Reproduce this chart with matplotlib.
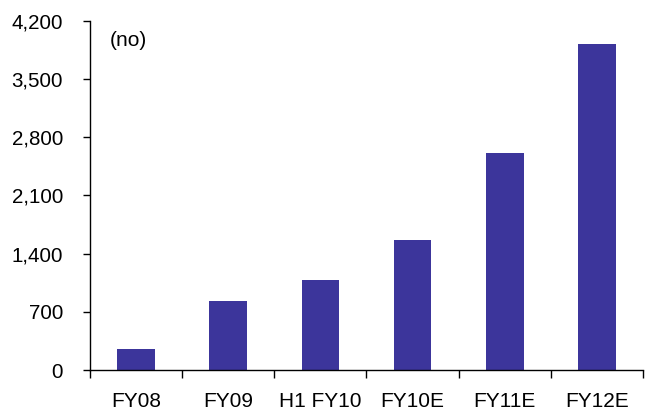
import matplotlib
matplotlib.use("Agg")
import matplotlib.pyplot as plt
from matplotlib.ticker import FixedLocator, FuncFormatter
import numpy as np

categories = ["FY08", "FY09", "H1 FY10", "FY10E", "FY11E", "FY12E"]
values = [250, 830, 1080, 1560, 2610, 3920]
y_ticks = [0, 700, 1400, 2100, 2800, 3500, 4200]
unit_label = "(no)"

plt.rcParams["font.family"] = ["Liberation Sans", "DejaVu Sans"]

fig = plt.figure(figsize=(6.48, 4.12), dpi=100)
ax = fig.add_axes([90 / 648, 42 / 412, 553 / 648, 349.3 / 412])

x = np.arange(len(categories))
ax.bar(x, values, width=0.41, color="#3C359B", zorder=2)

ax.set_xlim(-0.5, len(categories) - 0.5)
ax.set_ylim(0, 4200)

ax.yaxis.set_major_locator(FixedLocator(y_ticks))
ax.yaxis.set_major_formatter(FuncFormatter(lambda v, p: f"{int(v):,}"))
ax.tick_params(axis="y", direction="out", length=5, width=1, pad=14.5,
               labelsize=14.8, color="black")

ax.set_xticks(x)
ax.set_xticklabels(categories)
ax.set_xticks(np.arange(-0.5, len(categories)), minor=True)
ax.tick_params(axis="x", which="major", length=0, pad=16, labelsize=15)
ax.tick_params(axis="x", which="minor", direction="out", length=6, width=1,
               color="black")

for side in ("top", "right"):
    ax.spines[side].set_visible(False)
for side in ("left", "bottom"):
    ax.spines[side].set_color("black")
    ax.spines[side].set_linewidth(1)

ax.text(20 / 553, (370 - 40) / 349.3, unit_label, transform=ax.transAxes,
        fontsize=15, ha="left", va="center")

fig.savefig("out.png", dpi=100)
